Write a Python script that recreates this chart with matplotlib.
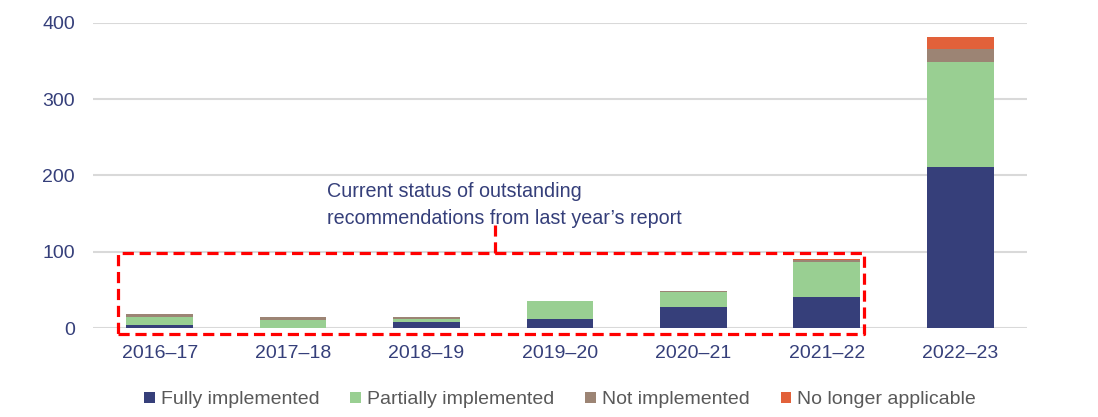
import matplotlib.pyplot as plt
import numpy as np

plt.rcParams['font.family'] = ['Liberation Sans', 'DejaVu Sans']

years = ['2016–17', '2017–18', '2018–19', '2019–20', '2020–21', '2021–22', '2022–23']
fully = [4, 0, 8, 12, 28, 40, 211]
partially = [11, 11, 4, 23, 19, 47, 137]
not_impl = [3, 3, 2, 0, 1, 2, 18]
no_longer = [0, 0, 0, 0, 0, 1, 15]

series = [
    ('Fully implemented', fully, '#363f7a'),
    ('Partially implemented', partially, '#99cf92'),
    ('Not implemented', not_impl, '#9c8474'),
    ('No longer applicable', no_longer, '#e2613a'),
]

navy = '#353f7a'

fig = plt.figure(figsize=(10.98, 4.17), dpi=100)
ax = fig.add_axes([0.0847, 0.2134, 0.8506, 0.7322])

x = np.arange(len(years))
bottom = np.zeros(len(years))
for label, vals, color in series:
    ax.bar(x, vals, 0.5, bottom=bottom, color=color, label=label, zorder=2)
    bottom += np.array(vals)

ax.set_xlim(-0.5, 6.5)
ax.set_ylim(0, 400)
ax.set_yticks([0, 100, 200, 300, 400])
ax.set_xticks(x)
ax.set_xticklabels(years)
ax.grid(axis='y', color='#d9d9d9', linewidth=1.5, zorder=0)
ax.set_axisbelow(True)
for s in ax.spines.values():
    s.set_visible(False)
ax.tick_params(axis='both', length=0, labelsize=14, labelcolor=navy)
ax.tick_params(axis='y', pad=13)
ax.tick_params(axis='x', pad=12)

# dashed box around last year's outstanding recommendations
bx0, bx1, by0, by1 = -0.31, 5.28, -7.9, 98.2
ax.plot([bx0, bx1, bx1, bx0, bx0], [by0, by0, by1, by1, by0], color='#ff0000',
        linestyle=(0, (3.5, 1.8)), linewidth=2.3, clip_on=False, zorder=5)
ax.plot([2.51, 2.51], [by1, 135], color='#ff0000', linestyle=(0, (3.5, 1.8)),
        linewidth=2.3, clip_on=False, zorder=5)
ax.text(1.254, 191, "Current status of outstanding\nrecommendations from last year’s report",
        fontsize=14.2, color=navy, va='top', ha='left', linespacing=1.5)

leg = ax.legend(loc='upper center', bbox_to_anchor=(0.5, -0.15), ncol=4, frameon=False,
                fontsize=14, handlelength=0.55, handleheight=0.55, handletextpad=0.3,
                columnspacing=1.6)
for t in leg.get_texts():
    t.set_color('#595959')

fig.savefig('out.png', dpi=100)
